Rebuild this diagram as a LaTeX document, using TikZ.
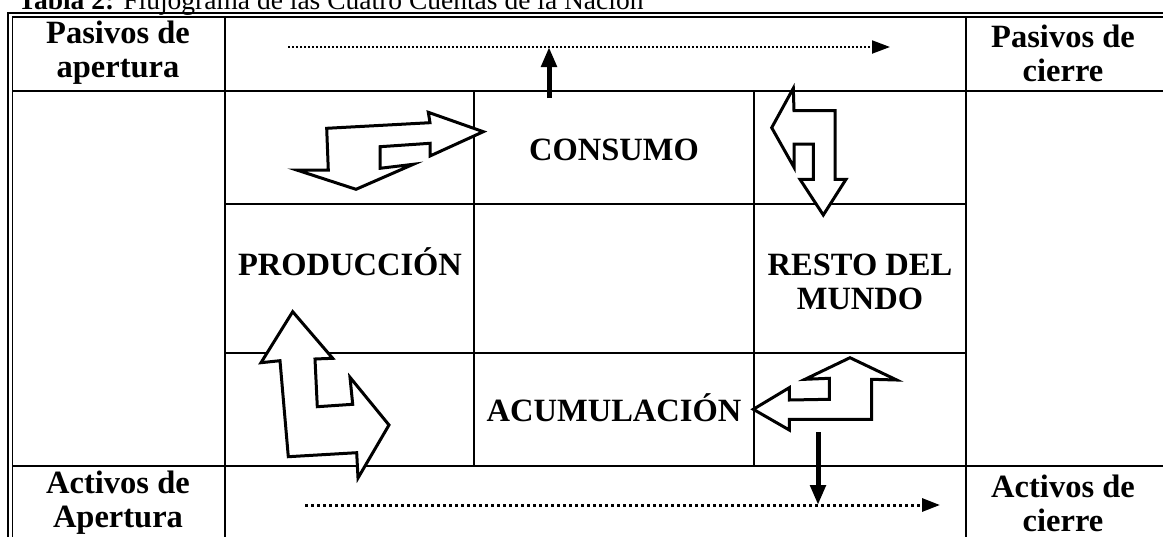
\documentclass[tikz,border=0pt]{standalone}
\usepackage{fontspec}
\setmainfont{Liberation Serif}
\usetikzlibrary{arrows.meta}
\begin{document}
\begin{tikzpicture}[x=1pt,y=-1pt,
  grid/.style={line width=2pt},
  frame/.style={line width=1.6pt},
  lbl/.style={font=\fontsize{32.5}{34}\selectfont\bfseries, align=center, inner sep=0pt},
  blockarrow/.style={draw, line width=3pt, fill=white, line join=miter},
  flowtop/.style={line width=2pt, dash pattern=on 2pt off 2pt, -{Triangle[length=18pt,width=13pt]}},
  flowbot/.style={line width=3pt, dash pattern=on 3pt off 3pt, -{Triangle[length=18pt,width=13pt]}},
  thickarrow/.style={line width=5pt, -{Triangle[length=20pt,width=15pt]}}]
\clip (0,0) rectangle (1163,536);
\useasboundingbox (0,0) rectangle (1163,536);
% title
\node[anchor=base west, inner sep=0pt, font=\fontsize{27.5}{30}\selectfont] (title) at (18,9) {\textbf{Tabla 2:} Flujograma de las Cuatro Cuentas de la Nación};
% outer double frame
\draw[frame] (8,540) -- (8,13) -- (1170,13);
\draw[frame] (12.5,540) -- (12.5,17) -- (1170,17);
% grid
\draw[grid] (12.5,91) -- (1170,91);
\draw[grid] (12.5,466) -- (1170,466);
\draw[grid] (225,204) -- (966,204);
\draw[grid] (225,353) -- (966,353);
\draw[grid] (225,17) -- (225,540);
\draw[grid] (966,17) -- (966,540);
\draw[grid] (474,91) -- (474,466);
\draw[grid] (754,91) -- (754,466);
% labels
\node[lbl] (pa) at (118,53) {Pasivos de\\apertura};
\node[lbl] (pc) at (1063,53) {Pasivos de\\cierre};
\node[lbl] (consumo) at (614,150) {CONSUMO};
\node[lbl] (produccion) at (350,262) {PRODUCCIÓN};
\node[lbl] (resto) at (860,282) {RESTO DEL\\MUNDO};
\node[lbl] (acum) at (614,408) {ACUMULACIÓN};
\node[lbl] (aa) at (118,503) {Activos de\\Apertura};
\node[lbl] (ac) at (1063,503) {Activos de\\cierre};
% flow lines
\coordinate (ts) at (288,47);
\coordinate (te) at (890,47);
\coordinate (bs) at (305,505);
\coordinate (be) at (940,505);
\draw[flowtop] (ts) -- (te);
\draw[flowbot] (bs) -- (be);
\coordinate (upS) at (549,98);
\coordinate (upE) at (549,47);
\coordinate (dnS) at (818,432);
\coordinate (dnE) at (818,505);
\draw[thickarrow] (upS) -- (upE);
\draw[thickarrow] (dnS) -- (dnE);
% block arrows
\draw[blockarrow] (326.7,128.3) -- (430,122.7) -- (428.3,112.3) -- (483.3,131.7) -- (430,156) -- (430,143.3) -- (380,146.7) -- (380,168.3) -- (413.3,164.3) -- (356,189.3) -- (296.7,170) -- (328.3,170) -- cycle;
\draw[blockarrow] (793.3,88.3) -- (794,110.7) -- (835,110.7) -- (835,179.3) -- (846,179.3) -- (823.3,215) -- (800,179.3) -- (813.3,179.3) -- (813.3,144) -- (794,144) -- (794,167.3) -- (771.7,127.7) -- cycle;
\draw[blockarrow] (292.7,311.7) -- (332.7,358.3) -- (315,359) -- (317.3,406.7) -- (352.7,404.3) -- (350,377.3) -- (389,425) -- (358,478) -- (356.7,452.7) -- (288.3,456.7) -- (280,360.7) -- (261,362.7) -- cycle;
\draw[blockarrow] (753.3,409.3) -- (789.3,387.7) -- (789.3,400) -- (829.3,399.3) -- (829.3,378.3) -- (805,379.3) -- (850,357.7) -- (896.7,380) -- (871.7,379.3) -- (871.7,419.3) -- (789.3,419.3) -- (789.3,430) -- cycle;
\end{tikzpicture}
\end{document}
